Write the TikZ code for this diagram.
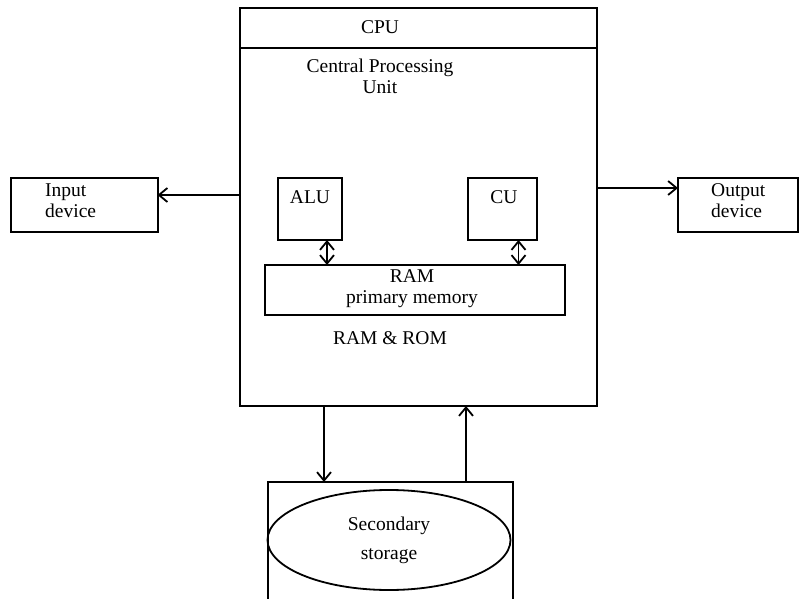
\documentclass[tikz,border=0pt]{standalone}
\usepackage{fontspec}
\setmainfont{Liberation Serif}
\usetikzlibrary{arrows.meta,calc,shapes.geometric}
\begin{document}
\begin{tikzpicture}[x=1pt,y=-1pt,
  box/.style={draw, line width=2pt, inner sep=0pt, outer sep=0pt},
  txt/.style={font=\fontsize{19.5}{21}\selectfont, inner sep=0pt},
  barb/.tip={Straight Barb[length=8.5pt,width=14pt,line width=1.8pt]},
  conn/.style={line width=1.9pt, -barb},
  twoway/.style={line width=1.9pt, barb-barb}
]
\useasboundingbox (0,0) rectangle (809,599);

% processor enclosure with its title strip
\node[box, minimum width=357pt, minimum height=398pt] (cpu) at (418.5,207) {};
\coordinate (hl) at (240,48);
\coordinate (hr) at (597,48);
\draw[line width=2pt] (hl) -- (hr);
\node[txt] (cputitle) at (380,27) {CPU};
\node[txt, align=center] (cpuname) at (380,76) {Central Processing\\Unit};

% peripherals
\node[box, minimum width=147pt, minimum height=54pt] (inp) at (84,205) {};
\node[txt, align=left, anchor=west] (inptxt) at (45,201) {Input\\device};
\node[box, minimum width=120pt, minimum height=54pt] (outp) at (738,205) {};
\node[txt, align=left, anchor=west] (outtxt) at (711,201) {Output\\device};

% units inside the processor
\node[box, minimum width=64pt, minimum height=62pt, txt] (alu) at (310,209) {};
\node[txt] (alutxt) at (310,197) {ALU};
\node[box, minimum width=69pt, minimum height=62pt, txt] (cu) at (502.5,209) {};
\node[txt] (cutxt) at (504,197) {CU};
\node[box, minimum width=300pt, minimum height=50pt] (ram) at (415,290) {};
\node[txt, align=center] (ramtxt) at (412,289) {RAM\\primary memory};
\node[txt] (romlbl) at (390,338) {RAM \& ROM};

% secondary storage
\node[box, minimum width=245pt, minimum height=160pt] (store) at (390.5,562) {};
\node[draw, line width=1.8pt, ellipse, minimum width=243pt, minimum height=100pt, inner sep=0pt, txt, align=center, font=\fontsize{19.5}{29}\selectfont] (disk) at (389,540) {Secondary\\storage};

% connectors
\coordinate (inpoint) at ($(inp.east)+(0,-10)$);
\draw[conn] (cpu.west |- inpoint) -- (inpoint);
\coordinate (outpoint) at ($(outp.west)+(0,-17)$);
\draw[conn] (cpu.east |- outpoint) -- (outpoint);
\coordinate (alufoot) at ([xshift=17pt]alu.south);
\draw[twoway] (alufoot) -- (alufoot |- ram.north);
\coordinate (cufoot) at ([xshift=16pt]cu.south);
\draw[twoway] (cufoot) -- (cufoot |- ram.north);
\coordinate (downx) at (324,0);
\draw[conn] (downx |- cpu.south) -- (downx |- store.north);
\coordinate (upx) at (466,0);
\draw[conn] (upx |- store.north) -- (upx |- cpu.south);
\end{tikzpicture}
\end{document}
